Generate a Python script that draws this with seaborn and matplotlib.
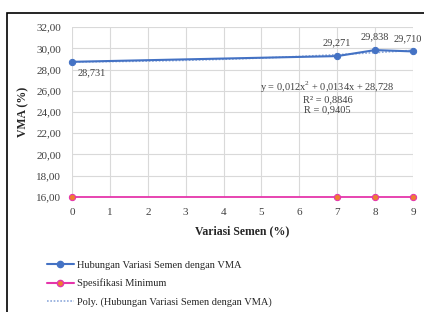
import numpy as np
import pandas as pd
import seaborn as sns
import matplotlib.pyplot as plt
from matplotlib.patches import Rectangle
from matplotlib.lines import Line2D

# values
variasi_semen = [0, 7, 8, 9]
vma = [28.731, 29.271, 29.838, 29.710]
spesifikasi_min = [16, 16, 16, 16]
vma_labels = ["28,731", "29,271", "29,838", "29,710"]
eq_text = "y = 0,012x$^2$ + 0,0134x + 28,728\nR² = 0,8846\nR = 0,9405"

df = pd.DataFrame({"Variasi": variasi_semen, "VMA": vma, "Spek": spesifikasi_min})

sns.set_style("whitegrid")
plt.rcParams["font.family"] = ["Liberation Serif", "DejaVu Serif"]
plt.rcParams["mathtext.fontset"] = "custom"
plt.rcParams["mathtext.rm"] = "Liberation Serif"

blue = "#4472C4"
pink = "#E535AB"
orange = "#ED7D31"

fig = plt.figure(figsize=(4.24, 3.12), dpi=100)
ax = fig.add_axes([0.170, 0.369, 0.804, 0.544])

# polynomial trendline (order 2)
sns.regplot(data=df, x="Variasi", y="VMA", order=2, ci=None, scatter=False, ax=ax,
            truncate=True, line_kws=dict(color="#8FAADC", lw=1.2, ls=(0, (1, 1))))
sns.lineplot(data=df, x="Variasi", y="VMA", ax=ax, color=blue, lw=1.5,
             marker="o", markersize=4.5, markeredgecolor=blue, clip_on=False, zorder=5)
sns.lineplot(data=df, x="Variasi", y="Spek", ax=ax, color=pink, lw=1.3,
             marker="o", markersize=4.5, markerfacecolor=orange, markeredgecolor=pink,
             clip_on=False, zorder=5)

ax.set_xlim(0, 9)
ax.set_ylim(16, 32)
ax.set_xticks(range(0, 10))
ax.set_yticks(np.arange(16, 33, 2))
ax.set_yticklabels([f"{v:.2f}".replace(".", ",") for v in np.arange(16, 33, 2)])
ax.tick_params(labelsize=8, colors="#404040", length=0)
ax.tick_params(axis="y", pad=8)
ax.tick_params(axis="x", pad=8)
ax.grid(color="#D9D9D9", lw=0.8)
for s in ax.spines.values():
    s.set_visible(False)
ax.set_xlabel("Variasi Semen (%)", fontsize=8.5, fontweight="bold", labelpad=6)
ax.set_ylabel("VMA (%)", fontsize=8.5, fontweight="bold", labelpad=5)

# data labels
offsets = [(4, -11), (0, 6), (0, 6), (-4, 6)]
for x, y, t, (dx, dy) in zip(variasi_semen, vma, vma_labels, offsets):
    ax.annotate(t, (x, y), xytext=(dx, dy), textcoords="offset points",
                ha="left" if dx > 0 else "center", va="bottom", fontsize=7.5, color="#404040",
                annotation_clip=False)

ax.text(6.75, 27.0, eq_text, ha="center", va="top", fontsize=7.5, color="#404040",
        linespacing=1.05)

handles = [
    Line2D([], [], color=blue, lw=1.5, marker="o", markersize=4.5),
    Line2D([], [], color=pink, lw=1.5, marker="o", markersize=4.5,
           markerfacecolor=orange, markeredgecolor=pink),
    Line2D([], [], color="#8FAADC", lw=1.2, ls=(0, (1, 1))),
]
labels = ["Hubungan Variasi Semen dengan VMA", "Spesifikasi Minimum",
          "Poly. (Hubungan Variasi Semen dengan VMA)"]
fig.legend(handles, labels, loc="upper left", bbox_to_anchor=(0.093, 0.188),
           bbox_transform=fig.transFigure, frameon=False, fontsize=7.5,
           handlelength=2.6, labelspacing=0.85, handletextpad=0.35, borderpad=0.2)

fig.patches.append(Rectangle((0.017, -0.01), 1.0, 0.968, transform=fig.transFigure,
                             fill=False, edgecolor="black", lw=1.2))

fig.savefig("out.png", dpi=100)
